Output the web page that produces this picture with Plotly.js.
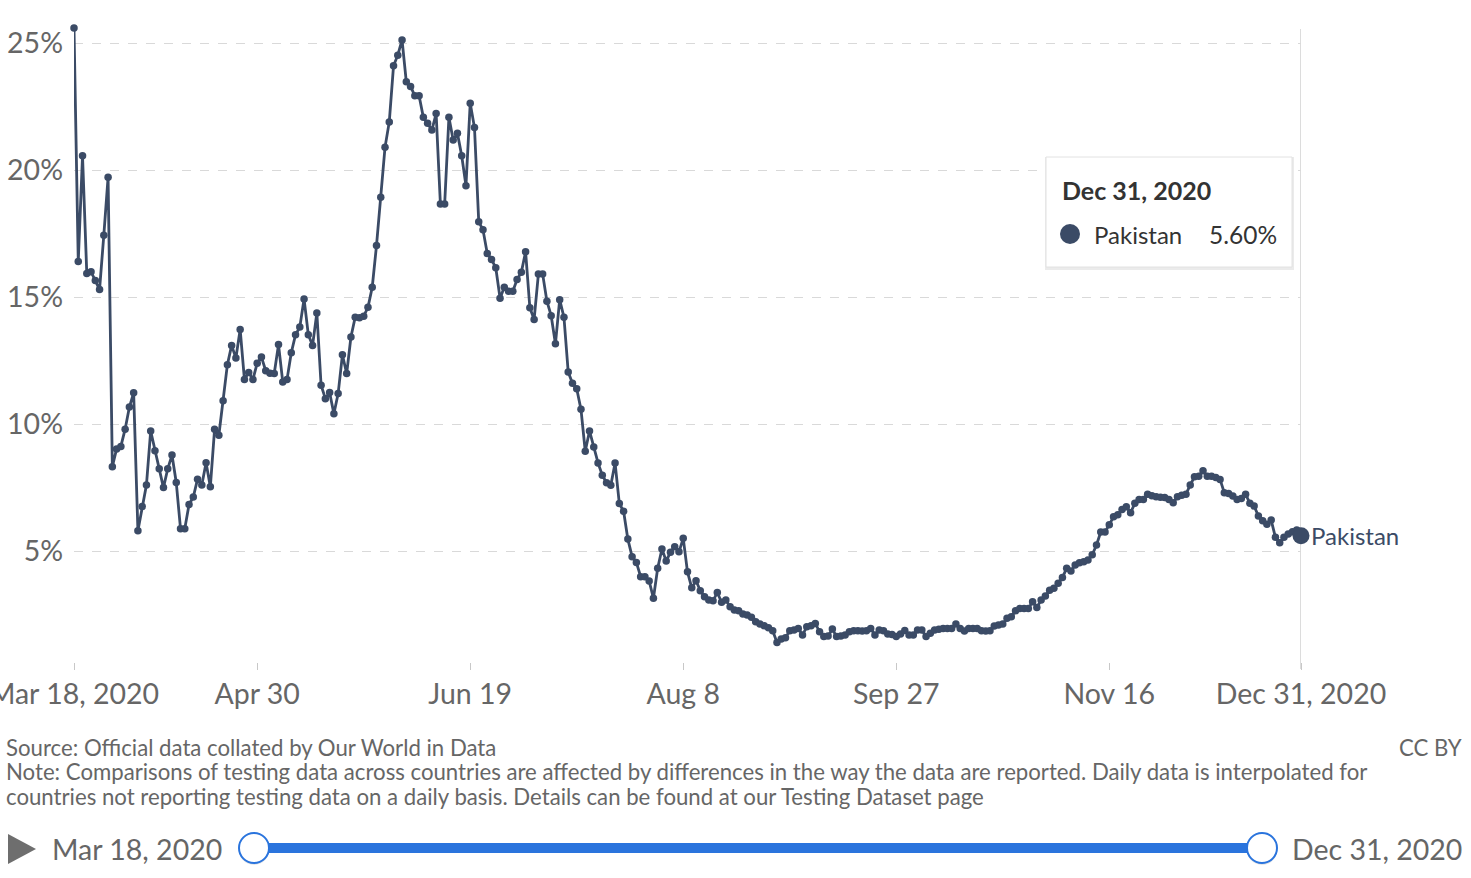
<!DOCTYPE html>
<html>
<head>
<meta charset="utf-8">
<script src="https://cdn.plot.ly/plotly-3.0.1.min.js"></script>
<style>
  html, body { margin: 0; padding: 0; background: #fff; }
  #chart { width: 1471px; height: 878px; }
</style>
</head>
<body>
<div id="chart"></div>
<script>
// ---- Data (share of daily COVID-19 tests that are positive, Pakistan) ----
const startDate = '2020-03-18';
const country = 'Pakistan';
const positiveRate = [
  25.6, 16.4, 20.57, 15.93, 16.0, 15.66, 15.3, 17.44, 19.72, 8.32,
  9.02, 9.12, 9.8, 10.67, 11.23, 5.8, 6.75, 7.6, 9.73, 8.95,
  8.24, 7.5, 8.24, 8.78, 7.7, 5.88, 5.88, 6.83, 7.13, 7.83,
  7.6, 8.48, 7.53, 9.8, 9.56, 10.92, 12.34, 13.1, 12.6, 13.73,
  11.76, 12.03, 11.76, 12.4, 12.64, 12.1, 12.0, 11.99, 13.13, 11.66,
  11.76, 12.81, 13.52, 13.82, 14.93, 13.52, 13.1, 14.38, 11.53, 11.0,
  11.24, 10.41, 11.2, 12.73, 11.99, 13.43, 14.21, 14.19, 14.25, 14.6,
  15.39, 17.03, 18.93, 20.9, 21.9, 24.11, 24.53, 25.13, 23.48, 23.3,
  22.93, 22.93, 22.08, 21.85, 21.58, 22.23, 18.67, 18.67, 22.08, 21.19,
  21.45, 20.57, 19.39, 22.64, 21.68, 17.97, 17.65, 16.72, 16.48, 16.16,
  14.96, 15.39, 15.23, 15.23, 15.69, 15.98, 16.79, 14.58, 14.12, 15.91,
  15.91, 14.84, 14.27, 13.16, 14.9, 14.21, 12.05, 11.61, 11.39, 10.58,
  8.93, 9.73, 9.1, 8.47, 7.99, 7.69, 7.59, 8.47, 6.87, 6.57,
  5.47, 4.78, 4.55, 3.99, 3.99, 3.82, 3.14, 4.32, 5.08, 4.61,
  4.95, 5.17, 4.97, 5.5, 4.18, 3.55, 3.83, 3.44, 3.2, 3.07,
  3.04, 3.37, 2.98, 3.07, 2.81, 2.68, 2.65, 2.52, 2.48, 2.39,
  2.22, 2.13, 2.06, 1.98, 1.86, 1.4, 1.54, 1.59, 1.86, 1.89,
  1.95, 1.69, 2.02, 2.06, 2.15, 1.82, 1.63, 1.65, 1.93, 1.63,
  1.65, 1.69, 1.82, 1.86, 1.86, 1.85, 1.86, 1.95, 1.69, 1.89,
  1.86, 1.73, 1.71, 1.63, 1.73, 1.87, 1.69, 1.69, 1.89, 1.89,
  1.63, 1.76, 1.89, 1.92, 1.95, 1.95, 1.95, 2.13, 1.95, 1.85,
  1.95, 1.95, 1.95, 1.86, 1.85, 1.86, 2.05, 2.09, 2.13, 2.35,
  2.41, 2.65, 2.74, 2.74, 2.74, 3.0, 2.78, 3.07, 3.23, 3.46,
  3.53, 3.73, 3.96, 4.32, 4.21, 4.45, 4.54, 4.58, 4.65, 4.85,
  5.24, 5.75, 5.75, 6.04, 6.35, 6.43, 6.64, 6.74, 6.51, 6.88,
  7.03, 7.03, 7.24, 7.18, 7.14, 7.12, 7.11, 7.03, 6.9, 7.14,
  7.2, 7.24, 7.6, 7.93, 7.95, 8.16, 7.95, 7.95, 7.9, 7.82,
  7.3, 7.27, 7.17, 7.03, 7.07, 7.24, 6.88, 6.77, 6.38, 6.19,
  6.06, 6.22, 5.54, 5.33, 5.54, 5.67, 5.76, 5.83, 5.6
];
const xTickVals = ['2020-03-18', '2020-04-30', '2020-06-19', '2020-08-08', '2020-09-27', '2020-11-16', '2020-12-31'];
const xTickText = ['Mar 18, 2020', 'Apr 30', 'Jun 19', 'Aug 8', 'Sep 27', 'Nov 16', 'Dec 31, 2020'];
const yTickVals = [5, 10, 15, 20, 25];
const yTickText = ['5%', '10%', '15%', '20%', '25%'];
const startLabel = 'Mar 18, 2020';
const endLabel = 'Dec 31, 2020';
const sourceText = 'Source: Official data collated by Our World in Data';
const noteLine1 = 'Note: Comparisons of testing data across countries are affected by differences in the way the data are reported. Daily data is interpolated for';
const noteLine2 = 'countries not reporting testing data on a daily basis. Details can be found at our Testing Dataset page';
const licenseText = 'CC BY';

// ---- Build daily dates ----
const dates = [];
{
  const d0 = new Date(startDate + 'T00:00:00Z');
  for (let i = 0; i < positiveRate.length; i++) {
    const d = new Date(d0.getTime() + i * 86400000);
    dates.push(d.toISOString().slice(0, 10));
  }
}
const lastDate = dates[dates.length - 1];
const lastVal = positiveRate[positiveRate.length - 1];

const LINE = '#3b4b66';
const GREY = '#666666';
const FONT = 'Lato, "Open Sans", sans-serif';

// pixel -> paper helpers (plot area: x 74..1301, y 28..662)
const PL = 74, PW = 1227, PB = 662, PH = 634;
const px = v => (v - PL) / PW;
const py = v => (PB - v) / PH;

const traces = [
  {
    x: dates, y: positiveRate, type: 'scatter', mode: 'lines+markers',
    line: { color: LINE, width: 2.8 },
    marker: { color: LINE, size: 7.5 },
    cliponaxis: false, hoverinfo: 'skip', showlegend: false
  },
  {
    x: [lastDate], y: [lastVal], type: 'scatter', mode: 'markers',
    marker: { color: LINE, size: 17 },
    cliponaxis: false, hoverinfo: 'skip', showlegend: false
  }
];

const shapes = [
  // hover guide line at last date
  { type: 'line', xref: 'x', yref: 'paper', x0: lastDate, x1: lastDate, y0: py(669), y1: py(29),
    line: { color: '#dcdcdc', width: 2 }, layer: 'below' },
  // tooltip shadow & box
  { type: 'rect', xref: 'paper', yref: 'paper', x0: px(1045), x1: px(1294), y0: py(270), y1: py(157),
    fillcolor: 'rgba(0,0,0,0.08)', line: { width: 0 } },
  { type: 'rect', xref: 'paper', yref: 'paper', x0: px(1046), x1: px(1292), y0: py(267), y1: py(157),
    fillcolor: '#ffffff', line: { color: '#e2e2e2', width: 1 } },
  { type: 'circle', xref: 'paper', yref: 'paper', x0: px(1060), x1: px(1080), y0: py(244), y1: py(224),
    fillcolor: LINE, line: { width: 0 } },
  // timeline slider
  { type: 'path', xref: 'paper', yref: 'paper',
    path: `M ${px(8)},${py(834)} L ${px(8)},${py(864)} L ${px(36)},${py(849)} Z`,
    fillcolor: '#6e6e6e', line: { width: 0 } },
  { type: 'line', xref: 'paper', yref: 'paper', x0: px(254), x1: px(1262), y0: py(848), y1: py(848),
    line: { color: '#2a74dd', width: 10 } },
  { type: 'circle', xref: 'paper', yref: 'paper', x0: px(239), x1: px(269), y0: py(865), y1: py(835),
    fillcolor: 'rgba(0,0,0,0.10)', line: { width: 0 } },
  { type: 'circle', xref: 'paper', yref: 'paper', x0: px(239), x1: px(269), y0: py(863), y1: py(833),
    fillcolor: '#ffffff', line: { color: '#2a74dd', width: 2 } },
  { type: 'circle', xref: 'paper', yref: 'paper', x0: px(1247), x1: px(1277), y0: py(865), y1: py(835),
    fillcolor: 'rgba(0,0,0,0.10)', line: { width: 0 } },
  { type: 'circle', xref: 'paper', yref: 'paper', x0: px(1247), x1: px(1277), y0: py(863), y1: py(833),
    fillcolor: '#ffffff', line: { color: '#2a74dd', width: 2 } }
];

const ann = (text, x, y, xanchor, size, color, extra) => Object.assign({
  text, x, y, xref: 'paper', yref: 'paper', xanchor, yanchor: 'middle',
  showarrow: false, borderpad: 0, font: { family: FONT, size, color }
}, extra || {});

const annotations = [
  // end label
  { text: country, x: lastDate, y: lastVal, xref: 'x', yref: 'y', xanchor: 'left', yanchor: 'middle',
    xshift: 8, showarrow: false, font: { family: FONT, size: 24, color: LINE } },
  // tooltip text
  ann('<b>' + endLabel + '</b>', px(1061), py(190), 'left', 25, '#333333'),
  ann(country, px(1093), py(235), 'left', 24, '#333333'),
  ann(lastVal.toFixed(2) + '%', px(1278), py(235), 'right', 24.5, '#333333'),
  // footer
  ann(sourceText, px(5), py(747), 'left', 22.2, GREY),
  ann(licenseText, px(1463), py(747), 'right', 22.2, GREY),
  ann(noteLine1, px(5), py(771), 'left', 22.2, GREY),
  ann(noteLine2, px(5), py(796), 'left', 22.2, GREY),
  // slider labels
  ann(startLabel, px(51), py(849), 'left', 28.5, GREY),
  ann(endLabel, px(1463), py(849), 'right', 28.5, GREY)
];

const layout = {
  width: 1471, height: 878,
  margin: { l: PL, r: 1471 - PL - PW, t: 28, b: 878 - PB },
  paper_bgcolor: '#ffffff', plot_bgcolor: '#ffffff',
  font: { family: FONT, color: GREY },
  showlegend: false,
  xaxis: {
    type: 'date', range: [startDate, lastDate],
    tickmode: 'array', tickvals: xTickVals, ticktext: xTickText,
    showgrid: false, zeroline: false, showline: false,
    ticks: 'outside', ticklen: 7, tickwidth: 1, tickcolor: '#c8c8c8',
    tickfont: { family: FONT, size: 28.5, color: GREY },
    ticklabelstandoff: 0, ticklabeloverflow: 'allow', fixedrange: true
  },
  yaxis: {
    range: [0.63, 25.6],
    tickmode: 'array', tickvals: yTickVals, ticktext: yTickText,
    showgrid: true, gridcolor: '#d9d9d9', griddash: 'dash', gridwidth: 1,
    zeroline: false, showline: false, ticks: '',
    tickfont: { family: FONT, size: 28.5, color: GREY },
    ticklabelstandoff: 10, ticklabeloverflow: 'allow', fixedrange: true
  },
  shapes, annotations
};

Plotly.newPlot('chart', traces, layout, { displayModeBar: false, staticPlot: true });
</script>
</body>
</html>
